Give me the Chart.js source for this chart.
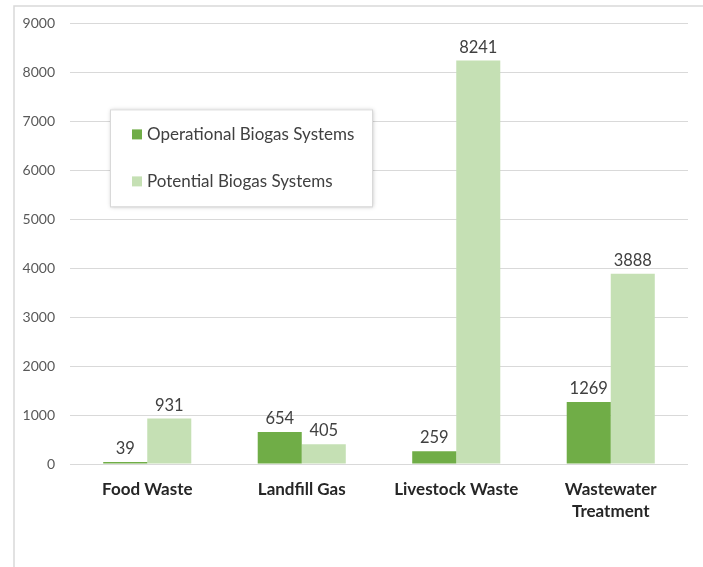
<!DOCTYPE html>
<html lang="en">
<head>
    <meta charset="UTF-8">
    <title>Biogas Systems</title>
    <script src="https://cdn.jsdelivr.net/npm/chart.js"></script>
    <style>
        html, body { margin: 0; padding: 0; background: #fff; }
        #wrap { width: 703px; height: 567px; }
    </style>
</head>
<body>
    <div id="wrap"><canvas id="biogasChart"></canvas></div>

    <script>
        const categories = ["Food Waste", "Landfill Gas", "Livestock Waste", ["Wastewater", "Treatment"]];
        const operational = [39, 654, 259, 1269];
        const potential = [931, 405, 8241, 3888];
        const seriesNames = ["Operational Biogas Systems", "Potential Biogas Systems"];
        const seriesColors = ["#70AD47", "#C5E0B4"];

        const textFont = "Lato, 'Open Sans', sans-serif";

        // frame lines round the chart (left + top)
        const framePlugin = {
            id: "frame",
            beforeDraw(chart) {
                const c = chart.ctx;
                c.save();
                c.strokeStyle = "#d9d9d9";
                c.lineWidth = 1.5;
                c.beginPath();
                c.moveTo(14, 567);
                c.lineTo(14, 6);
                c.lineTo(703, 6);
                c.stroke();
                c.restore();
            }
        };

        // value labels above bars
        const labelPlugin = {
            id: "valueLabels",
            afterDatasetsDraw(chart) {
                const c = chart.ctx;
                c.save();
                c.font = "16.5px " + textFont;
                c.fillStyle = "#404040";
                c.textAlign = "center";
                c.textBaseline = "bottom";
                chart.data.datasets.forEach((ds, i) => {
                    chart.getDatasetMeta(i).data.forEach((bar, j) => {
                        c.fillText(ds.data[j], bar.x, bar.y - 5);
                    });
                });
                c.restore();
            }
        };

        // legend box inside plot area
        const boxLegend = {
            id: "boxLegend",
            afterDraw(chart) {
                const c = chart.ctx;
                const a = chart.chartArea;
                const x = a.left + 40, y = a.top + 86, w = 262, h = 97;
                c.save();
                c.shadowColor = "rgba(0,0,0,0.25)";
                c.shadowBlur = 4;
                c.shadowOffsetX = 1;
                c.shadowOffsetY = 1;
                c.fillStyle = "#fff";
                c.fillRect(x, y, w, h);
                c.shadowColor = "transparent";
                c.strokeStyle = "#d9d9d9";
                c.lineWidth = 1;
                c.strokeRect(x + 0.5, y + 0.5, w, h);
                c.font = "17px " + textFont;
                c.textBaseline = "middle";
                chart.data.datasets.forEach((ds, i) => {
                    const ry = y + 25 + i * 47;
                    c.fillStyle = ds.backgroundColor;
                    c.fillRect(x + 22, ry - 5, 10, 10);
                    c.fillStyle = "#404040";
                    c.fillText(ds.label, x + 37, ry);
                });
                c.restore();
            }
        };

        new Chart(document.getElementById("biogasChart"), {
            type: "bar",
            data: {
                labels: categories,
                datasets: [
                    { label: seriesNames[0], data: operational, backgroundColor: seriesColors[0] },
                    { label: seriesNames[1], data: potential, backgroundColor: seriesColors[1] }
                ]
            },
            options: {
                responsive: true,
                maintainAspectRatio: false,
                animation: false,
                categoryPercentage: 0.57,
                barPercentage: 1.0,
                layout: { padding: { left: 14, top: 22, right: 15, bottom: 0 } },
                plugins: {
                    legend: { display: false },
                    tooltip: { enabled: false }
                },
                scales: {
                    x: {
                        grid: { display: false, drawTicks: false },
                        border: { display: false },
                        ticks: {
                            color: "#262626",
                            font: { family: textFont, size: 17, weight: "bold", lineHeight: 1.3 },
                            padding: 14
                        },
                        afterFit(scale) { scale.height = 103; }
                    },
                    y: {
                        min: 0,
                        max: 9000,
                        ticks: {
                            stepSize: 1000,
                            color: "#595959",
                            font: { family: textFont, size: 14 },
                            padding: 15,
                            callback: v => String(v)
                        },
                        grid: { color: "#d9d9d9", drawTicks: false },
                        border: { display: false },
                        afterFit(scale) { scale.width = 56; }
                    }
                }
            },
            plugins: [framePlugin, labelPlugin, boxLegend]
        });
    </script>
</body>
</html>
